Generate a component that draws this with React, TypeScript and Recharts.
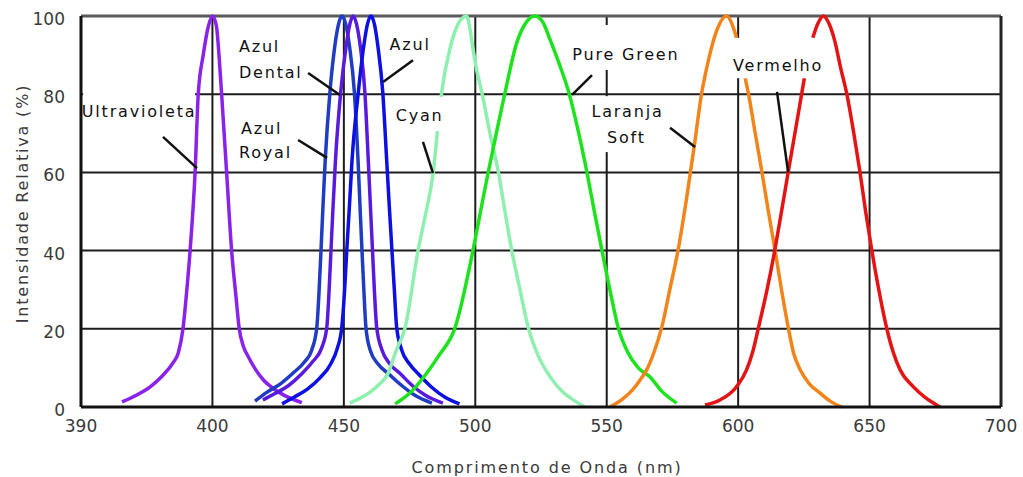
import React from 'react';
import {
  LineChart, Line, XAxis, YAxis, CartesianGrid, ReferenceLine, ReferenceDot,
} from 'recharts';

const FONT = "'DejaVu Sans', Verdana, sans-serif";

// chart frame
const CHART_W = 1023;
const CHART_H = 477;
const Y_AXIS_W = 81;
const X_AXIS_H = 70;
const TOP = 16;
const RIGHT = 22;
const X_MIN = 350;
const X_MAX = 700;
const Y_MAX = 100;
const PLOT_W = CHART_W - Y_AXIS_W - RIGHT;
const PLOT_H = CHART_H - TOP - X_AXIS_H;
const PX_PER_NM = PLOT_W / (X_MAX - X_MIN);
const PX_PER_PCT = PLOT_H / Y_MAX;

// axis ticks (the drawing's left edge is labelled "390")
const xTicks = [350, 400, 450, 500, 550, 600, 650, 700];
const xTickLabels = ['390', '400', '450', '500', '550', '600', '650', '700'];
const yTicks = [0, 20, 40, 60, 80, 100];

// Ultravioleta
const uvWl = [365.6, 371, 376.2, 381, 385, 387, 388.8, 390, 391.5, 393.4, 394.6, 396.5, 398.5, 400, 401.5, 402.5, 403.5, 405.4, 407.3, 409, 410.2, 411.8, 413.6, 416.5, 419.4, 423, 427, 434];
const uvVal = [1.3, 3, 5.1, 8, 11.3, 13.8, 20, 28, 40, 60, 80, 90, 97.5, 100, 97.5, 90, 80, 60, 40, 28, 20, 15.5, 12.9, 9.5, 6.9, 4.8, 3.1, 1.1];

// Azul Royal
const royalWl = [416.2, 420.8, 426, 430.7, 435, 437.8, 439.7, 440.6, 441.3, 442, 442.9, 444.7, 446.5, 448, 449.3, 450.7, 452.2, 454, 455.4, 456.2, 456.9, 457.6, 458.4, 460, 463, 467, 472, 477, 483.5];
const royalVal = [1.5, 3.8, 6, 8.7, 11.5, 14.6, 20.3, 30, 40, 50.5, 63, 80.5, 92, 98, 100, 98, 92, 80.5, 63, 50.5, 40, 30, 20.3, 14.6, 11, 8.5, 5.5, 3, 1];

// Azul Dental
const dentalWl = [419.2, 424, 429, 434, 438, 441.5, 443.5, 444.4, 445.1, 445.8, 446.8, 448.8, 450.8, 452.3, 453.5, 454.8, 456.3, 458, 459.3, 460.2, 460.9, 461.6, 462.5, 464.5, 467.5, 471.5, 476, 481, 487.7];
const dentalVal = [1.8, 3.5, 5.5, 8.5, 11.5, 15, 20.3, 30, 40, 50, 63, 80.5, 92, 98, 100, 98, 92, 80.5, 63, 50, 40, 30, 20.3, 14.6, 11, 8.5, 5.5, 3, 1];

// Azul
const azulWl = [426.5, 431, 436, 441, 445, 447.5, 449.2, 450.3, 451.1, 452, 453.1, 455.5, 457.5, 459, 460.3, 461.6, 463, 464.8, 466.3, 467.4, 468.3, 469.2, 470.1, 472, 475, 479, 483.5, 488.5, 494];
const azulVal = [0.8, 2.5, 4.5, 7.5, 11, 15, 20.3, 30, 40, 50, 63, 80.5, 92, 98, 100, 98, 92, 80.5, 63, 50, 40, 30, 20.3, 14.6, 11, 8, 5, 2.5, 0.8];

// Cyan (hidden behind the "Cyan" label between 70.6 and 79.3)
const cyanWl = [452.3, 456, 460, 463.5, 466.5, 470, 473.3, 478.3, 481.3, 484, 485.6, 486.3, 487, 487.2, 490.5, 493.5, 496.7, 497.9, 498.8, 500.3, 502.5, 505.6, 508.8, 511.3, 513.8, 517, 520.2, 524, 528.5, 533, 538, 541.7];
const cyanVal: (number | null)[] = [1, 2.2, 3.8, 5.8, 8.2, 14.6, 20.3, 40.3, 50, 60, 70.6, null, 79.3, 80.4, 92, 98, 100, 97, 93, 87, 80.4, 70, 60, 50, 40.3, 30, 20.2, 13, 7.7, 4, 1.5, 0];

// Pure Green
const greenWl = [469.5, 475, 481, 486, 492.3, 499.2, 502, 505, 508, 511.3, 515.7, 519.5, 522.7, 525.8, 528.4, 531.8, 535.6, 539.2, 542.4, 545.3, 548.1, 551.2, 554.4, 558, 562, 566.5, 571, 576.6];
const greenVal = [0.8, 3.5, 8.2, 13, 20.3, 40.3, 50, 60.3, 70, 80.4, 93, 98.5, 100, 98.3, 94, 88, 80.4, 70.5, 60.3, 50, 40.3, 30, 20.2, 14, 10, 7.7, 4, 1];

// Laranja Soft (hidden behind the "Vermelho" label between 84.1 and 94.4)
const orangeWl = [551.2, 556, 560, 562.7, 565.2, 568, 570.9, 574, 577.2, 580.3, 583.3, 586.1, 588.3, 591.6, 595.6, 598.6, 599.4, 601, 602.7, 603.9, 606.5, 609, 611.5, 614, 616.5, 619.1, 621, 623.6, 627, 631.1, 635, 639.4];
const orangeVal: (number | null)[] = [0, 2, 4.5, 6.9, 9.5, 14, 20.3, 30, 40.3, 53, 66.7, 80.2, 87.5, 95.8, 100, 96.2, 94.4, null, 84.1, 80.2, 70, 60.3, 50, 40.3, 30, 20.2, 14, 9.5, 6, 3.6, 1.5, 0];

// Vermelho (hidden behind its own label between 84.1 and 94.4)
const redWl = [587.4, 593.1, 599.4, 603.2, 605.5, 607.7, 611, 614, 616.5, 619.1, 621.6, 624.2, 625.2, 627, 628.4, 630.3, 632.4, 634.6, 636.8, 638.9, 641.3, 644, 646.3, 648.5, 650.8, 653.5, 656.5, 659, 661.6, 666.6, 671, 676.8];
const redVal: (number | null)[] = [0.5, 1.8, 5.2, 9.5, 14, 20.2, 30, 40.3, 50, 60.3, 70, 80.2, 84.1, null, 94.4, 98, 100, 98, 93.5, 87, 80.2, 70, 60.3, 50, 40.3, 30, 20.2, 14, 9.5, 5.2, 2.5, 0];

const toData = (wl: number[], val: (number | null)[]) => wl.map((x, i) => ({ x, y: val[i] }));

const series = [
  { name: 'Ultravioleta', data: toData(uvWl, uvVal), color: '#8a22ea' },
  { name: 'Azul Royal', data: toData(royalWl, royalVal), color: '#1f3cc2' },
  { name: 'Azul Dental', data: toData(dentalWl, dentalVal), color: '#5a1ade' },
  { name: 'Azul', data: toData(azulWl, azulVal), color: '#0c10e2' },
  { name: 'Cyan', data: toData(cyanWl, cyanVal), color: '#8ef0ae' },
  { name: 'Pure Green', data: toData(greenWl, greenVal), color: '#1ee21e' },
  { name: 'Laranja Soft', data: toData(orangeWl, orangeVal), color: '#f2841c' },
  { name: 'Vermelho', data: toData(redWl, redVal), color: '#e41414' },
];

// white backgrounds behind the annotations (data units)
const boxes = [
  { x1: 350.8, x2: 393.4, y1: 72.4, y2: 81.6 },
  { x1: 409, x2: 436, y1: 83, y2: 94.9 },
  { x1: 409, x2: 431.8, y1: 62.1, y2: 74.2 },
  { x1: 466.8, x2: 483.5, y1: 90.5, y2: 95.1 },
  { x1: 468.3, x2: 488.9, y1: 70.6, y2: 79.3 },
  { x1: 534.5, x2: 580.2, y1: 86.2, y2: 97.7 },
  { x1: 541.7, x2: 573.5, y1: 65.2, y2: 79.5 },
  { x1: 595.4, x2: 634.6, y1: 84.1, y2: 94.4 },
];

const labels = [
  { text: 'Ultravioleta', x: 372.1, y: 75.6, anchor: 'middle' },
  { text: 'Azul', x: 410.1, y: 92.3, anchor: 'start' },
  { text: 'Dental', x: 410.1, y: 85.7, anchor: 'start' },
  { text: 'Azul', x: 410.9, y: 71.2, anchor: 'start' },
  { text: 'Royal', x: 410.1, y: 65.1, anchor: 'start' },
  { text: 'Azul', x: 475.2, y: 92.8, anchor: 'middle' },
  { text: 'Cyan', x: 478.8, y: 74.7, anchor: 'middle' },
  { text: 'Pure Green', x: 557.3, y: 90.2, anchor: 'middle' },
  { text: 'Laranja', x: 557.9, y: 75.6, anchor: 'middle' },
  { text: 'Soft', x: 557.5, y: 69.1, anchor: 'middle' },
  { text: 'Vermelho', x: 615.2, y: 87.5, anchor: 'middle' },
];

const leaders = [
  [381.2, 69.1, 394.1, 61.1],
  [436.4, 85.4, 448.5, 79.8],
  [432.6, 68.3, 443.6, 63.7],
  [476.3, 88.7, 464.9, 83.1],
  [480.1, 67.8, 483.9, 59.8],
  [544.4, 84.9, 536.8, 79.8],
  [574.1, 71.4, 583.6, 66.5],
  [614.8, 80.6, 619, 60.1],
];

const XTick = (props: any) => {
  const { x, y, payload } = props;
  const i = xTicks.indexOf(payload.value);
  return (
    <text x={x} y={y + 25} textAnchor="middle" fontFamily={FONT} fontSize={17} fill="#3a3a3a">
      {i >= 0 ? xTickLabels[i] : payload.value}
    </text>
  );
};

const YTick = (props: any) => {
  const { x, y, payload } = props;
  return (
    <text x={x - 16} y={y + 9} textAnchor="end" fontFamily={FONT} fontSize={17} fill="#3a3a3a">
      {payload.value}
    </text>
  );
};

const XTitle = (props: any) => {
  const vb = props.viewBox || { x: Y_AXIS_W, y: TOP + PLOT_H, width: PLOT_W, height: X_AXIS_H };
  return (
    <text x={vb.x + vb.width / 2 + 6} y={vb.y + 66} textAnchor="middle" fontFamily={FONT} fontSize={16} letterSpacing={1.9} fill="#3a3a3a">
      Comprimento de Onda (nm)
    </text>
  );
};

const YTitle = (props: any) => {
  const vb = props.viewBox || { x: 0, y: TOP, width: Y_AXIS_W, height: PLOT_H };
  const cx = 28;
  const cy = vb.y + vb.height / 2 - 8;
  return (
    <text x={cx} y={cy} textAnchor="middle" transform={`rotate(-90, ${cx}, ${cy})`} fontFamily={FONT} fontSize={16} letterSpacing={1.8} fill="#3a3a3a">
      Intensidade Relativa (%)
    </text>
  );
};

export default function App() {
  return (
    <div style={{ width: CHART_W, height: CHART_H, overflow: 'hidden', background: '#fff' }}>
      <style>{'body{margin:0;background:#fff;}'}</style>
      <LineChart width={CHART_W} height={CHART_H} margin={{ top: TOP, right: RIGHT, left: 0, bottom: 0 }}>
        <CartesianGrid stroke="#1c1c1c" strokeWidth={2} />
        <XAxis
          type="number"
          dataKey="x"
          domain={[X_MIN, X_MAX]}
          ticks={xTicks}
          interval={0}
          height={X_AXIS_H}
          tickSize={0}
          tickMargin={0}
          tickLine={false}
          axisLine={{ stroke: '#111', strokeWidth: 3 }}
          tick={<XTick />}
          label={<XTitle />}
        />
        <YAxis
          type="number"
          domain={[0, Y_MAX]}
          ticks={yTicks}
          interval={0}
          width={Y_AXIS_W}
          tickSize={0}
          tickMargin={0}
          tickLine={false}
          axisLine={{ stroke: '#111', strokeWidth: 3 }}
          tick={<YTick />}
          label={<YTitle />}
        />
        <ReferenceLine y={Y_MAX} stroke="#5a5a5a" strokeWidth={3} />
        <ReferenceLine x={X_MAX} stroke="#222" strokeWidth={3} />
        {series.map((s) => (
          <Line
            key={s.name}
            data={s.data}
            dataKey="y"
            name={s.name}
            type="monotone"
            stroke={s.color}
            strokeWidth={3.5}
            dot={false}
            activeDot={false}
            connectNulls={false}
            isAnimationActive={false}
          />
        ))}
        {boxes.map((b, i) => (
          <ReferenceDot
            key={'b' + i}
            x={b.x1}
            y={b.y2}
            r={0}
            shape={(p: any) => (
              <rect
                x={p.cx}
                y={p.cy}
                width={(b.x2 - b.x1) * PX_PER_NM}
                height={(b.y2 - b.y1) * PX_PER_PCT}
                fill="#ffffff"
                stroke="none"
              />
            )}
          />
        ))}
        {leaders.map((l, i) => (
          <ReferenceLine
            key={'l' + i}
            segment={[{ x: l[0], y: l[1] }, { x: l[2], y: l[3] }]}
            stroke="#111"
            strokeWidth={2.5}
          />
        ))}
        {labels.map((t, i) => (
          <ReferenceDot
            key={'t' + i}
            x={t.x}
            y={t.y}
            r={0}
            shape={(p: any) => (
              <text x={p.cx} y={p.cy} dy="0.36em" textAnchor={t.anchor as any} fontFamily={FONT} fontSize={16} letterSpacing={1.8} fill="#111">
                {t.text}
              </text>
            )}
          />
        ))}
      </LineChart>
    </div>
  );
}
